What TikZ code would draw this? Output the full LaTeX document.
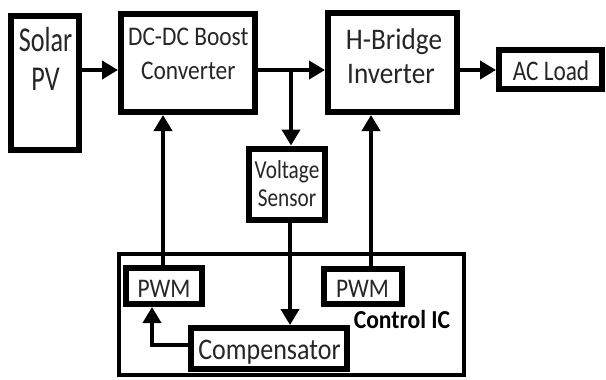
\documentclass[tikz,border=0pt]{standalone}
\usepackage{fontspec}
\setmainfont{Carlito}
\newfontfamily\fsA[FakeStretch=0.75]{Carlito}
\newfontfamily\fsB[FakeStretch=0.82]{Carlito}
\newfontfamily\fsC[FakeStretch=0.87]{Carlito}
\newfontfamily\fsD[FakeStretch=0.91]{Carlito}
\usetikzlibrary{arrows.meta}
\begin{document}
\begin{tikzpicture}[x=1bp,y=-1bp,
  box/.style={draw=black, line width=6bp, inner sep=0pt, fill=white},
  ctrlbox/.style={draw=black, line width=4bp, inner sep=0pt},
  txt/.style={inner sep=0pt, anchor=base, text=black!85},
  conn/.style={draw=black, line width=3.8bp, -{Triangle[length=16bp,width=18bp]}}]
\useasboundingbox (0,0) rectangle (606,379);
% boxes
\node[ctrlbox, minimum width=345bp, minimum height=121bp] (ctrl) at (291.5,314.5) {};
\node[box, minimum width=68bp, minimum height=134bp] (solar) at (45,83) {};
\node[box, minimum width=134bp, minimum height=98bp] (boost) at (188,63) {};
\node[box, minimum width=129bp, minimum height=99bp] (hb) at (392.5,62.5) {};
\node[box, minimum width=103bp, minimum height=39bp] (load) at (550.5,69.5) {};
\node[box, minimum width=76bp, minimum height=71bp] (sens) at (287,184) {};
\node[box, minimum width=76bp, minimum height=36bp] (pwm1) at (164,286) {};
\node[box, minimum width=78bp, minimum height=35bp] (pwm2) at (363,286.5) {};
\node[box, minimum width=156bp, minimum height=41bp] (comp) at (269,348.5) {};
% texts
\node[txt, font=\fsA\fontsize{35}{40}\selectfont] (solart1) at (45.5,51.7) {Solar};
\node[txt, font=\fsA\fontsize{35}{40}\selectfont] (solart2) at (45.5,90) {PV};
\node[txt, font=\fsC\fontsize{27}{30}\selectfont] (boostt1) at (188.3,45) {DC-DC Boost};
\node[txt, font=\fsC\fontsize{27}{30}\selectfont] (boostt2) at (188.3,79) {Converter};
\node[txt, font=\fsD\fontsize{30}{34}\selectfont] (hbt1) at (394,49.3) {H-Bridge};
\node[txt, font=\fsD\fontsize{30}{34}\selectfont] (hbt2) at (391,83) {Inverter};
\node[txt, font=\fsB\fontsize{28.5}{32}\selectfont] (loadt) at (551,80) {AC Load};
\node[txt, font=\fsB\fontsize{26}{30}\selectfont] (senst1) at (287,178.3) {Voltage};
\node[txt, font=\fsB\fontsize{26}{30}\selectfont] (senst2) at (287,206.7) {Sensor};
\node[txt, font=\fsC\fontsize{27}{30}\selectfont] (pwm1t) at (164,297.3) {PWM};
\node[txt, font=\fsC\fontsize{27}{30}\selectfont] (pwm2t) at (362.5,297.3) {PWM};
\node[txt, font=\fsC\fontsize{30}{34}\selectfont] (compt) at (269.5,359) {Compensator};
\node[txt, font=\fsD\fontsize{26}{30}\bfseries\selectfont, text=black] (ctrlt) at (402,328.3) {Control IC};
% connectors
\coordinate (j) at (291,70);
\coordinate (cl) at (152,345);
\draw[conn] (solar.east |- j) -- (boost.west |- j);
\draw[conn] (boost.east |- j) -- (hb.west |- j);
\draw[conn] (hb.east |- j) -- (load.west |- j);
\draw[conn] (j) -- (j |- sens.north);
\draw[conn] (290,0 |- sens.south) -- (290,0 |- comp.north);
\draw[conn] (163,0 |- pwm1.north) -- (163,0 |- boost.south);
\draw[conn] (371,0 |- pwm2.north) -- (371,0 |- hb.south);
\draw[conn] (comp.west |- cl) -- (cl) -- (cl |- pwm1.south);
\end{tikzpicture}
\end{document}
